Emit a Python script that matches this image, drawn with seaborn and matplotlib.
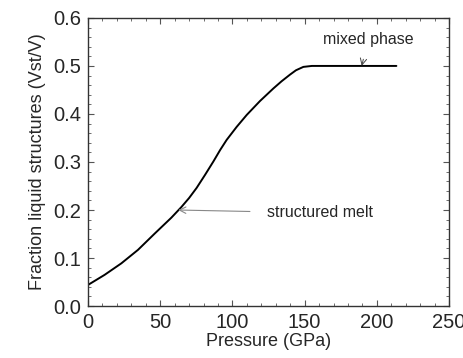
import numpy as np
import pandas as pd
import matplotlib
matplotlib.use('Agg')
import matplotlib.pyplot as plt
import seaborn as sns
from matplotlib.ticker import MultipleLocator, FormatStrFormatter

# values
pressure = [0, 11.5, 23.1, 34.6, 46.2, 57.7, 64.6, 70, 75.2, 81, 86.8, 91.5, 96.0, 102.9,
            109.9, 119.1, 128.3, 134, 139.9, 144, 149.1, 155, 167.5, 190, 213.5]
fraction = [0.044, 0.065, 0.089, 0.117, 0.151, 0.184, 0.206, 0.225, 0.246, 0.273, 0.301,
            0.325, 0.346, 0.373, 0.398, 0.427, 0.453, 0.468, 0.482, 0.491, 0.498, 0.500,
            0.500, 0.500, 0.500]

df = pd.DataFrame({'Pressure': pressure, 'Fraction': fraction})

sns.set_style('ticks')
plt.rcParams['font.family'] = ['Liberation Sans', 'DejaVu Sans']

fig = plt.figure(figsize=(4.63, 3.58), dpi=100)
ax = fig.add_axes([0.190, 0.145, 0.780, 0.805])

sns.lineplot(x='Pressure', y='Fraction', data=df, ax=ax, color='black',
             linewidth=1.4, sort=False, solid_joinstyle='round')

ax.set_xlim(0, 250)
ax.set_ylim(0, 0.6)
ax.xaxis.set_major_locator(MultipleLocator(50))
ax.xaxis.set_minor_locator(MultipleLocator(10))
ax.yaxis.set_major_locator(MultipleLocator(0.1))
ax.yaxis.set_minor_locator(MultipleLocator(0.02))
ax.yaxis.set_major_formatter(FormatStrFormatter('%.1f'))
ax.tick_params(which='both', direction='in', top=True, right=True, color='#555555')
ax.tick_params(which='major', length=4, labelsize=14.5, pad=5)
ax.tick_params(which='minor', length=2)
for s in ax.spines.values():
    s.set_linewidth(1.0)
    s.set_color('#333333')

ax.set_xlabel('Pressure (GPa)', fontsize=13, labelpad=1)
ax.set_ylabel('Fraction liquid structures (Vst/V)', fontsize=13, labelpad=5)

ax.annotate('mixed phase', xy=(189.5, 0.5), xytext=(194, 0.556), fontsize=11.5,
            ha='center', va='center',
            arrowprops=dict(arrowstyle='->', color='#444444', lw=0.7, shrinkA=7, shrinkB=0))
ax.annotate('structured melt', xy=(62.5, 0.2), xytext=(124, 0.194), fontsize=11.5,
            ha='left', va='center',
            arrowprops=dict(arrowstyle='->', color='#888888', lw=0.8, shrinkA=10, shrinkB=0))

fig.savefig('out.png', dpi=100)
